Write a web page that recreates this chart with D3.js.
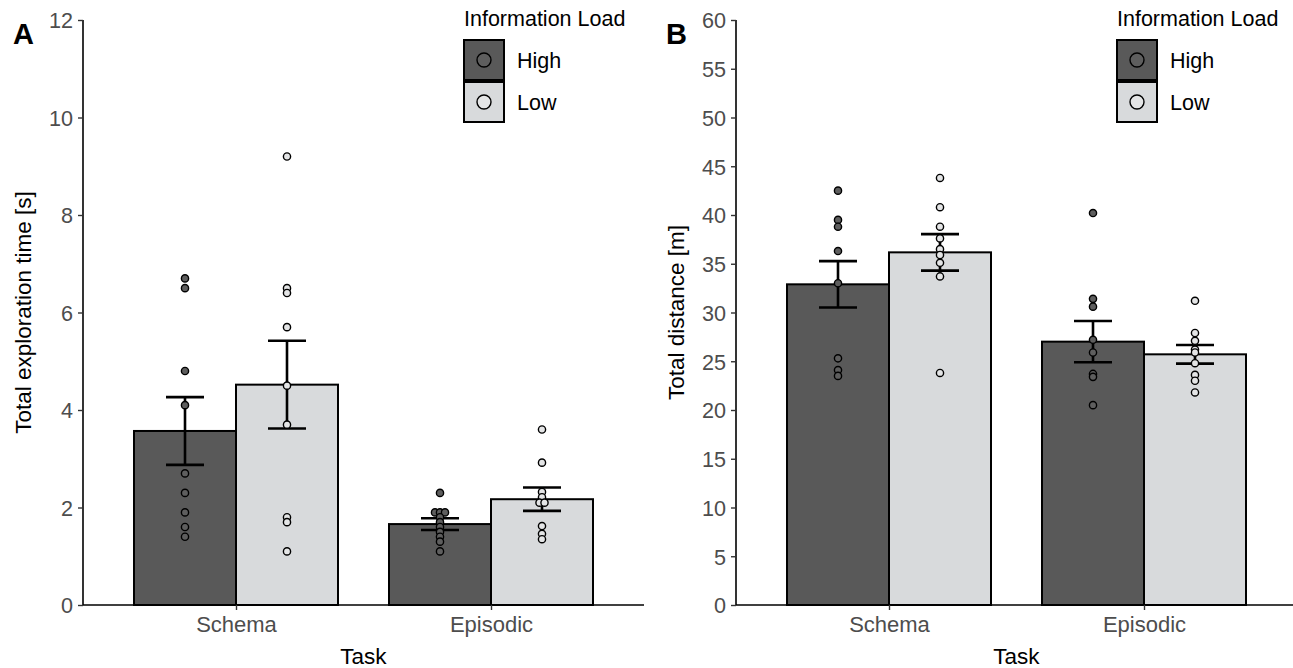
<!DOCTYPE html>
<html>
<head>
<meta charset="utf-8">
<script src="https://cdn.jsdelivr.net/npm/d3@7"></script>
<style>
  body { margin: 0; background: #fff; }
  text { font-family: "Liberation Sans", Arial, sans-serif; }
</style>
</head>
<body>
<div id="chart"></div>
<script>
// categories
const tasks = ["Schema", "Episodic"];
const loads = ["High", "Low"];

// panel A: total exploration time [s]
const timeSchemaHigh = [6.7, 6.5, 4.8, 4.1, 2.7, 2.3, 1.9, 1.6, 1.4];
const timeSchemaLow = [9.2, 6.5, 6.4, 5.7, 4.5, 3.7, 1.8, 1.7, 1.1];
const timeEpisodicHigh = [2.3, 1.9, 1.9, 1.9, 1.8, 1.7, 1.6, 1.5, 1.4, 1.3, 1.1];
const timeEpisodicLow = [3.6, 2.92, 2.32, 2.21, 2.1, 2.1, 1.62, 1.46, 1.35];
const timeMeans = [3.57, 4.52, 1.66, 2.17]; // Schema High, Schema Low, Episodic High, Episodic Low
const timeSE = [0.695, 0.9, 0.12, 0.24];
const timeTicks = [0, 2, 4, 6, 8, 10, 12];

// panel B: total distance [m]
const distSchemaHigh = [42.5, 39.5, 38.8, 36.3, 33.0, 25.3, 24.1, 23.5];
const distSchemaLow = [43.8, 40.8, 38.8, 37.6, 36.5, 35.9, 35.1, 33.7, 23.8];
const distEpisodicHigh = [40.2, 31.4, 30.6, 27.2, 25.9, 23.7, 23.4, 20.5];
const distEpisodicLow = [31.2, 27.9, 27.1, 26.2, 25.9, 24.8, 23.6, 23.0, 21.8];
const distMeans = [32.89, 36.17, 27.01, 25.71];
const distSE = [2.38, 1.87, 2.12, 0.955];
const distTicks = [0, 5, 10, 15, 20, 25, 30, 35, 40, 45, 50, 55, 60];

const W = 1293;
const H = 668;
const fillColor = { High: "#595959", Low: "#d8dadc" };
const pointColor = { High: "#5e5e5e", Low: "#e4e5e6" };

const svg = d3
  .select("#chart")
  .append("svg")
  .attr("width", W)
  .attr("height", H);

function buildRows(groups, means, se) {
  // groups in order Schema High, Schema Low, Episodic High, Episodic Low
  const rows = [];
  tasks.forEach((t, i) => {
    loads.forEach((l, j) => {
      const k = i * 2 + j;
      rows.push({ task: t, load: l, mean: means[k], se: se[k], values: groups[k] });
    });
  });
  return rows;
}

function panel(opts) {
  const x0 = opts.left;
  const x1 = opts.left + 561;
  const top = 20;
  const bottom = 605;

  const g = svg.append("g");

  const x = d3.scalePoint().domain(tasks).range([x0, x1]).padding(0.6);
  const step = x.step();
  const xLoad = d3.scaleBand().domain(loads).range([-0.4 * step, 0.4 * step]);

  const y = d3.scaleLinear().domain(opts.domain).range([bottom, top]);

  // bars
  g.selectAll(".bar")
    .data(opts.rows)
    .enter()
    .append("rect")
    .attr("class", "bar")
    .attr("x", (d) => x(d.task) + xLoad(d.load))
    .attr("width", xLoad.bandwidth())
    .attr("y", (d) => y(d.mean))
    .attr("height", (d) => y(0) - y(d.mean))
    .style("fill", (d) => fillColor[d.load])
    .style("stroke", "#000")
    .style("stroke-width", 2);

  // error bars
  const cap = 19;
  const eb = g
    .selectAll(".err")
    .data(opts.rows)
    .enter()
    .append("g")
    .attr("class", "err")
    .attr("transform", (d) => `translate(${x(d.task) + xLoad(d.load) + xLoad.bandwidth() / 2},0)`)
    .style("stroke", "#000")
    .style("stroke-width", 2.6);
  eb.append("line")
    .attr("y1", (d) => y(d.mean - d.se))
    .attr("y2", (d) => y(d.mean + d.se));
  eb.append("line")
    .attr("x1", -cap)
    .attr("x2", cap)
    .attr("y1", (d) => y(d.mean + d.se))
    .attr("y2", (d) => y(d.mean + d.se));
  eb.append("line")
    .attr("x1", -cap)
    .attr("x2", cap)
    .attr("y1", (d) => y(d.mean - d.se))
    .attr("y2", (d) => y(d.mean - d.se));

  // points: equal values are spread sideways
  const pts = [];
  opts.rows.forEach((r) => {
    const cx = x(r.task) + xLoad(r.load) + xLoad.bandwidth() / 2;
    const counts = d3.rollup(r.values, (v) => v.length, (v) => v);
    const seen = new Map();
    r.values.forEach((v) => {
      const n = counts.get(v);
      const idx = seen.get(v) || 0;
      seen.set(v, idx + 1);
      pts.push({ load: r.load, value: v, cx: cx + (idx - (n - 1) / 2) * 5 });
    });
  });
  g.selectAll(".pt")
    .data(pts)
    .enter()
    .append("circle")
    .attr("class", "pt")
    .attr("cx", (d) => d.cx)
    .attr("cy", (d) => y(d.value))
    .attr("r", 3.6)
    .style("fill", (d) => pointColor[d.load])
    .style("stroke", "#000")
    .style("stroke-width", 1.4);

  // y axis
  const yAxis = d3.axisLeft(y).tickValues(opts.ticks).tickSize(5).tickPadding(5).tickFormat(d3.format("d"));
  const ya = g.append("g").attr("transform", `translate(${x0},0)`).call(yAxis);
  ya.select(".domain").attr("d", `M0,${top}V${bottom}`).style("stroke", "#000").style("stroke-width", 1.6);
  ya.selectAll(".tick line").style("stroke", "#333").style("stroke-width", 1.4);
  ya.selectAll(".tick text")
    .style("font-size", "21.6px")
    .style("fill", "#4d4d4d")
    .attr("dy", "0.36em");

  // x axis
  const xAxis = d3.axisBottom(x).tickSize(5).tickPadding(6);
  const xa = g.append("g").attr("transform", `translate(0,${bottom})`).call(xAxis);
  xa.select(".domain").attr("d", `M${x0},0H${x1}`).style("stroke", "#000").style("stroke-width", 1.6);
  xa.selectAll(".tick line").style("stroke", "#333").style("stroke-width", 1.4);
  xa.selectAll(".tick text").style("font-size", "22px").style("fill", "#4d4d4d");

  // axis titles
  g.append("text")
    .attr("x", (x0 + x1) / 2)
    .attr("y", 664)
    .attr("text-anchor", "middle")
    .style("font-size", "22.5px")
    .style("fill", "#000")
    .text("Task");
  g.append("text")
    .attr("transform", `translate(${x0 - 52},${(top + bottom) / 2}) rotate(-90)`)
    .attr("text-anchor", "middle")
    .style("font-size", "22.5px")
    .style("fill", "#000")
    .text(opts.yTitle);

  // panel tag
  g.append("text")
    .attr("x", x0 - 70)
    .attr("y", 44)
    .style("font-size", "29px")
    .style("font-weight", "bold")
    .style("fill", "#000")
    .text(opts.tag);

  // legend
  const lg = g.append("g").attr("transform", `translate(${x0 + 381},0)`);
  lg.append("text")
    .attr("x", 0)
    .attr("y", 26)
    .style("font-size", "21.5px")
    .style("fill", "#000")
    .text("Information Load");
  loads.forEach((l, i) => {
    const ky = 40 + i * 42;
    lg.append("rect")
      .attr("x", 0)
      .attr("y", ky)
      .attr("width", 40)
      .attr("height", 40)
      .style("fill", fillColor[l])
      .style("stroke", "#000")
      .style("stroke-width", 2);
    lg.append("circle")
      .attr("cx", 20)
      .attr("cy", ky + 20)
      .attr("r", 7)
      .style("fill", pointColor[l])
      .style("stroke", "#000")
      .style("stroke-width", 1.4);
    lg.append("text")
      .attr("x", 53)
      .attr("y", ky + 20)
      .attr("dy", "0.36em")
      .style("font-size", "21.5px")
      .style("fill", "#000")
      .text(l);
  });
}

panel({
  left: 83,
  domain: [0, 12],
  ticks: timeTicks,
  rows: buildRows([timeSchemaHigh, timeSchemaLow, timeEpisodicHigh, timeEpisodicLow], timeMeans, timeSE),
  yTitle: "Total exploration time [s]",
  tag: "A",
});

panel({
  left: 736,
  domain: [0, 60],
  ticks: distTicks,
  rows: buildRows([distSchemaHigh, distSchemaLow, distEpisodicHigh, distEpisodicLow], distMeans, distSE),
  yTitle: "Total distance [m]",
  tag: "B",
});
</script>
</body>
</html>
